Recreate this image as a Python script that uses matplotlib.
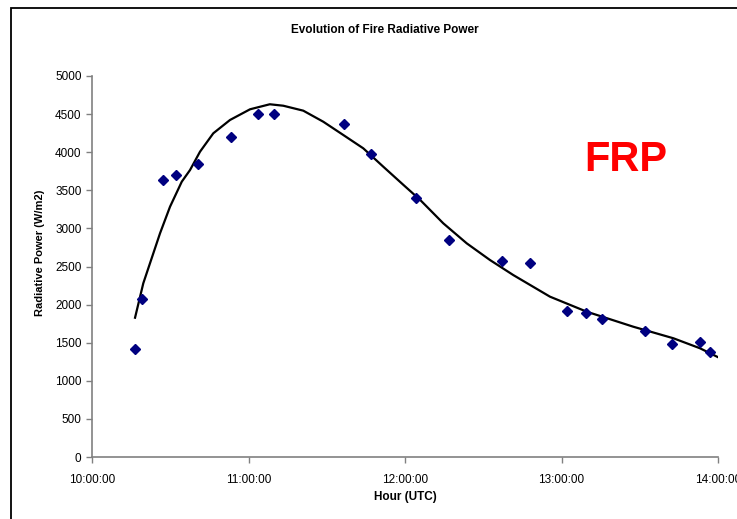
import pandas as pd
import matplotlib
matplotlib.use('Agg')
import matplotlib.pyplot as plt
from matplotlib.ticker import FuncFormatter, MultipleLocator
from matplotlib.patches import Rectangle

# observation times (UTC) and fire radiative power (W/m2)
times = ['10:16:30', '10:19:10', '10:27:15', '10:32:15', '10:40:40', '10:53:15',
         '11:03:40', '11:09:45', '11:36:35', '11:47:00', '12:04:10', '12:16:50',
         '12:37:15', '12:48:00', '13:02:05', '13:09:25', '13:15:30', '13:32:05',
         '13:42:20', '13:53:05', '13:56:55']
frp = [1420, 2070, 3640, 3700, 3850, 4200, 4500, 4500, 4370, 3975, 3400, 2850,
       2570, 2545, 1915, 1890, 1810, 1655, 1485, 1510, 1380]

# fitted curve
fit_times = ['10:16:30', '10:19:40', '10:26:05', '10:29:55', '10:34:25', '10:37:35',
             '10:41:25', '10:46:30', '10:52:55', '11:00:35', '11:08:10', '11:13:20',
             '11:21:00', '11:28:40', '11:36:20', '11:44:00', '11:51:40', '11:59:25',
             '12:05:50', '12:14:40', '12:23:40', '12:32:35', '12:41:30', '12:55:35',
             '13:09:40', '13:27:30', '13:42:55', '13:53:05', '14:00:00']
fit_frp = [1828, 2280, 2936, 3285, 3613, 3766, 4007, 4248, 4423, 4563, 4629, 4610,
           4545, 4400, 4226, 4051, 3810, 3570, 3373, 3067, 2804, 2585, 2388, 2104,
           1907, 1710, 1558, 1427, 1310]

plt.rcParams['font.family'] = ['Liberation Sans', 'DejaVu Sans']

def to_hours(tt):
    return (pd.to_timedelta(tt).total_seconds() / 3600.0).to_numpy()

hours = to_hours(times)
fit_hours = to_hours(fit_times)

fig = plt.figure(figsize=(7.37, 5.19), dpi=100)
ax = fig.add_axes([92/737, 62/519, 626/737, 381/519])

ax.plot(fit_hours, fit_frp, color='black', lw=1.6, zorder=2, solid_joinstyle='round')
ax.plot(hours, frp, 'D', color='#000080', markersize=5, zorder=3)

ax.set_xlim(10, 14)
ax.set_ylim(0, 5000)
ax.xaxis.set_major_locator(MultipleLocator(1))
ax.yaxis.set_major_locator(MultipleLocator(500))
ax.xaxis.set_major_formatter(FuncFormatter(lambda v, p: '%d:00:00' % round(v)))

for s in ['top', 'right']:
    ax.spines[s].set_visible(False)
for s in ['left', 'bottom']:
    ax.spines[s].set_color('#808080')
    ax.spines[s].set_linewidth(1.2)
ax.tick_params(colors='#808080', labelcolor='black', labelsize=8.5, length=4, width=1)
ax.tick_params(axis='x', pad=8)

ax.set_xlabel('Hour (UTC)', fontsize=8.5, fontweight='bold')
ax.xaxis.set_label_coords(0.5, -0.09)
ax.set_ylabel('Radiative Power (W/m2)', fontsize=8, fontweight='bold')
ax.yaxis.set_label_coords(-0.075, 0.535)
fig.text(385/737, 1 - 30/519, 'Evolution of Fire Radiative Power', ha='center',
         va='center', fontsize=8.5, fontweight='bold')
fig.text(626/737, 1 - 160/519, 'FRP', color='red', fontsize=30, fontweight='bold',
         ha='center', va='center')

# chart frame
fig.add_artist(Rectangle((11/737, -0.05), 1.1, 1 - 8/519 + 0.05, transform=fig.transFigure,
                         fill=False, edgecolor='black', lw=1.3, clip_on=False))

fig.savefig('out.png', dpi=100)
